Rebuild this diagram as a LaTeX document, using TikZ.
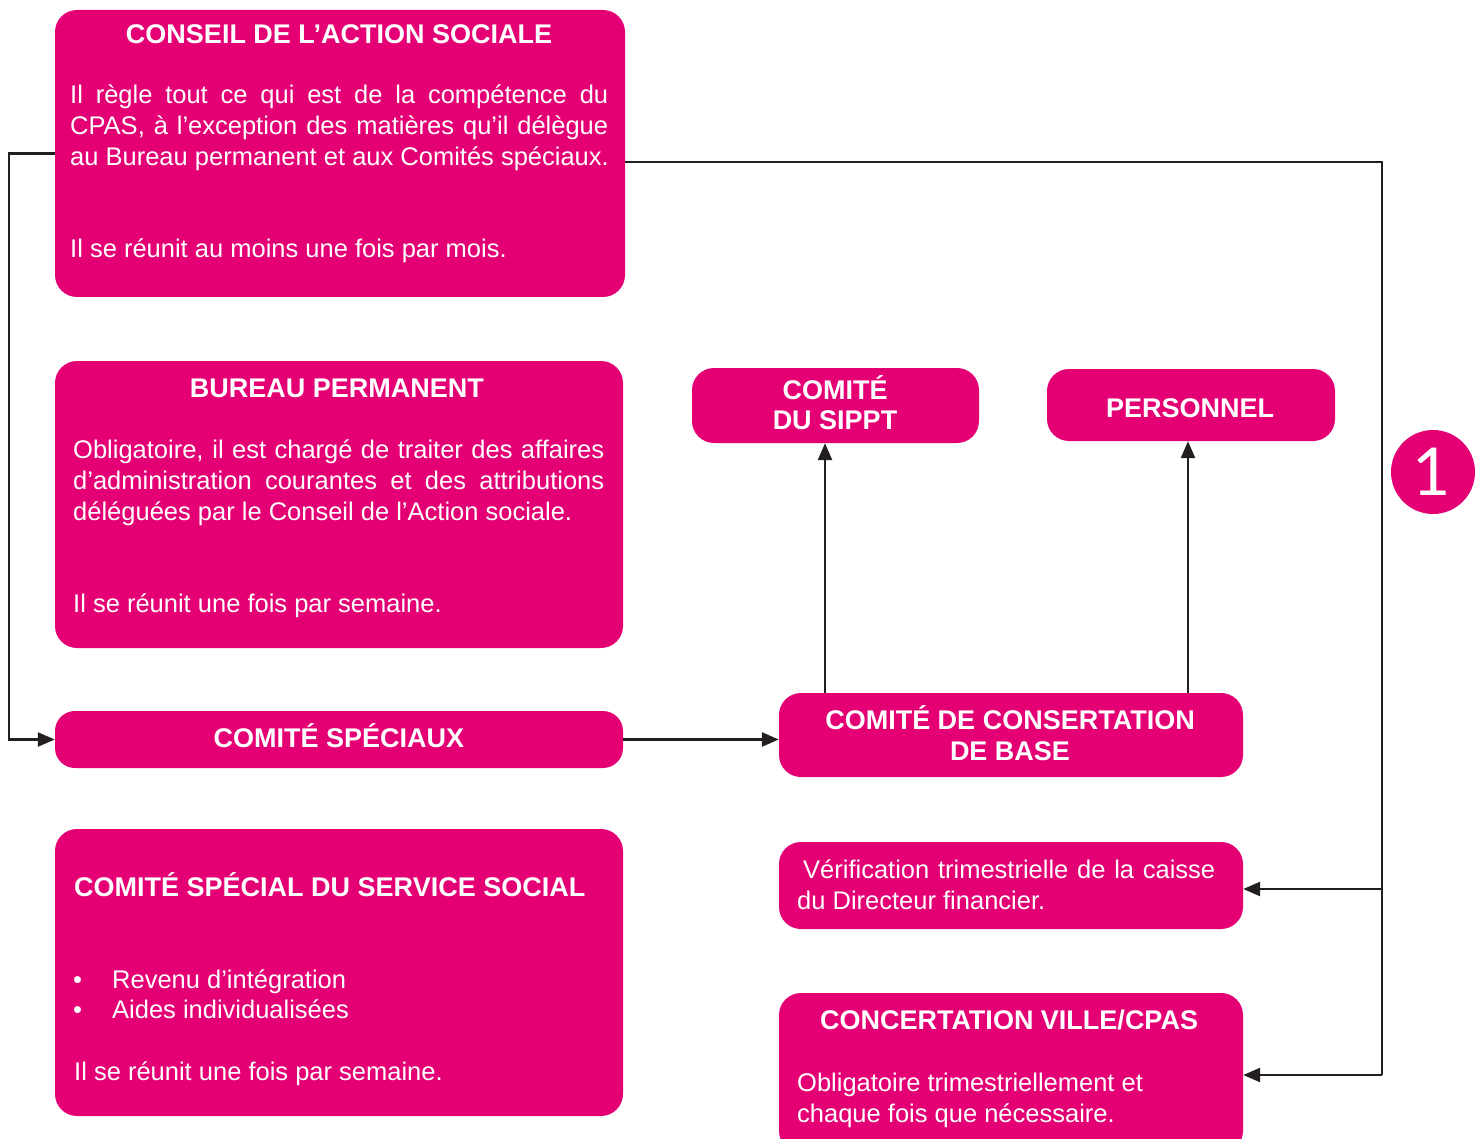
\documentclass[tikz,border=0pt]{standalone}
\usepackage{fontspec}
\setmainfont{Liberation Sans}
\newfontfamily\digitfont{Lato}
\usetikzlibrary{arrows.meta}
\definecolor{rose}{RGB}{228,0,116}
\definecolor{ink}{RGB}{35,31,32}
\newcommand{\jl}[2]{\makebox[#1pt][s]{#2}}
\tikzset{
  box/.style={fill=rose, draw=none, rounded corners=22pt, inner sep=0pt},
  ttl/.style={text=white, font=\fontsize{27}{31}\selectfont\bfseries, inner sep=0pt, anchor=base},
  txt/.style={text=white, font=\fontsize{25.5}{31}\selectfont, inner sep=0pt, anchor=base west},
  conn/.style={draw=ink, line width=2.5pt},
  arr/.style={conn, -{Triangle[length=17pt,width=14pt]}}
}
\begin{document}
\begin{tikzpicture}[x=1pt,y=-1pt]
\clip (0,0) rectangle (1479,1139);
\fill[white] (0,0) rectangle (1479,1139);
% boxes
\node[box, minimum width=570pt, minimum height=287pt] (conseil) at (340,153.5) {};
\node[box, minimum width=568pt, minimum height=287pt] (bureau) at (339,504.5) {};
\node[box, rounded corners=20pt, minimum width=568pt, minimum height=57pt] (speciaux) at (339,739.5) {};
\node[box, minimum width=568pt, minimum height=287pt] (social) at (339,972.5) {};
\node[box, minimum width=287pt, minimum height=75pt] (sippt) at (835.5,405.5) {};
\node[box, minimum width=288pt, minimum height=72pt] (personnel) at (1191,405) {};
\node[box, minimum width=464pt, minimum height=84pt] (base) at (1011,735) {};
\node[box, minimum width=464pt, minimum height=87pt] (verif) at (1011,885.5) {};
\node[box, minimum width=464pt, minimum height=160pt] (ville) at (1011,1073) {};
\node[circle, fill=rose, minimum size=84pt, inner sep=0pt] (un) at (1433,472) {};
\node[text=white, font=\fontsize{66}{70}\selectfont\digitfont, inner sep=0pt] (untxt) at (1432,472) {1};
% texts: conseil
\node[ttl] (t1) at (339,43.5) {CONSEIL DE L’ACTION SOCIALE};
\node[txt] (c1) at (70,104) {\jl{538}{Il règle tout ce qui est de la compétence du}};
\node[txt] (c2) at (70,135) {\jl{538}{CPAS, à l’exception des matières qu’il délègue}};
\node[txt] (c3) at (70,166) {au Bureau permanent et aux Comités spéciaux.};
\node[txt] (c4) at (70,258) {Il se réunit au moins une fois par mois.};
% bureau
\node[ttl] (t2) at (337,397.5) {BUREAU PERMANENT};
\node[txt] (b1) at (73,458) {\jl{531}{Obligatoire, il est chargé de traiter des affaires}};
\node[txt] (b2) at (73,489) {\jl{531}{d’administration courantes et des attributions}};
\node[txt] (b3) at (73,520) {déléguées par le Conseil de l’Action sociale.};
\node[txt] (b4) at (73,612) {Il se réunit une fois par semaine.};
% speciaux
\node[ttl] (t3) at (339,747.5) {COMITÉ SPÉCIAUX};
% social
\node[ttl, anchor=base west] (t4) at (74,896.5) {COMITÉ SPÉCIAL DU SERVICE SOCIAL};
\node[txt] (s0) at (73,988) {•};
\node[txt] (s1) at (112,988) {Revenu d’intégration};
\node[txt] (s2) at (73,1018) {•};
\node[txt] (s3) at (112,1018) {Aides individualisées};
\node[txt] (s4) at (74,1080) {Il se réunit une fois par semaine.};
% sippt / personnel
\node[ttl] (t5) at (835,399.5) {COMITÉ};
\node[ttl] (t6) at (835,429.5) {DU SIPPT};
\node[ttl] (t7) at (1190,417.5) {PERSONNEL};
% base
\node[ttl] (t8) at (1010,729.5) {COMITÉ DE CONSERTATION};
\node[ttl] (t9) at (1010,760.5) {DE BASE};
% verif
\node[txt] (v1) at (803,878) {\jl{412}{Vérification trimestrielle de la caisse}};
\node[txt] (v2) at (797,909) {du Directeur financier.};
% ville
\node[ttl] (t10) at (1009,1029.5) {CONCERTATION VILLE/CPAS};
\node[txt] (w1) at (797,1091) {Obligatoire trimestriellement et};
\node[txt] (w2) at (797,1122) {chaque fois que nécessaire.};
% connectors
\coordinate (L) at (9,739.5);
\coordinate (R) at (1382,1075);
\coordinate (Rv) at (1382,889);
\coordinate (xs) at (825,0);
\coordinate (xp) at (1188,0);
\draw[arr] (conseil.west) -| (L) -- (speciaux.west);
\draw[conn] ([yshift=-8.5pt]conseil.east) -| (R);
\draw[arr] (Rv) -- (Rv -| verif.east);
\draw[arr] (R) -- (R -| ville.east);
\draw[arr] (speciaux.east) -- (speciaux.east -| base.west);
\draw[arr] (base.north -| xs) -- (sippt.south -| xs);
\draw[arr] (base.north -| xp) -- (personnel.south -| xp);
\end{tikzpicture}
\end{document}
